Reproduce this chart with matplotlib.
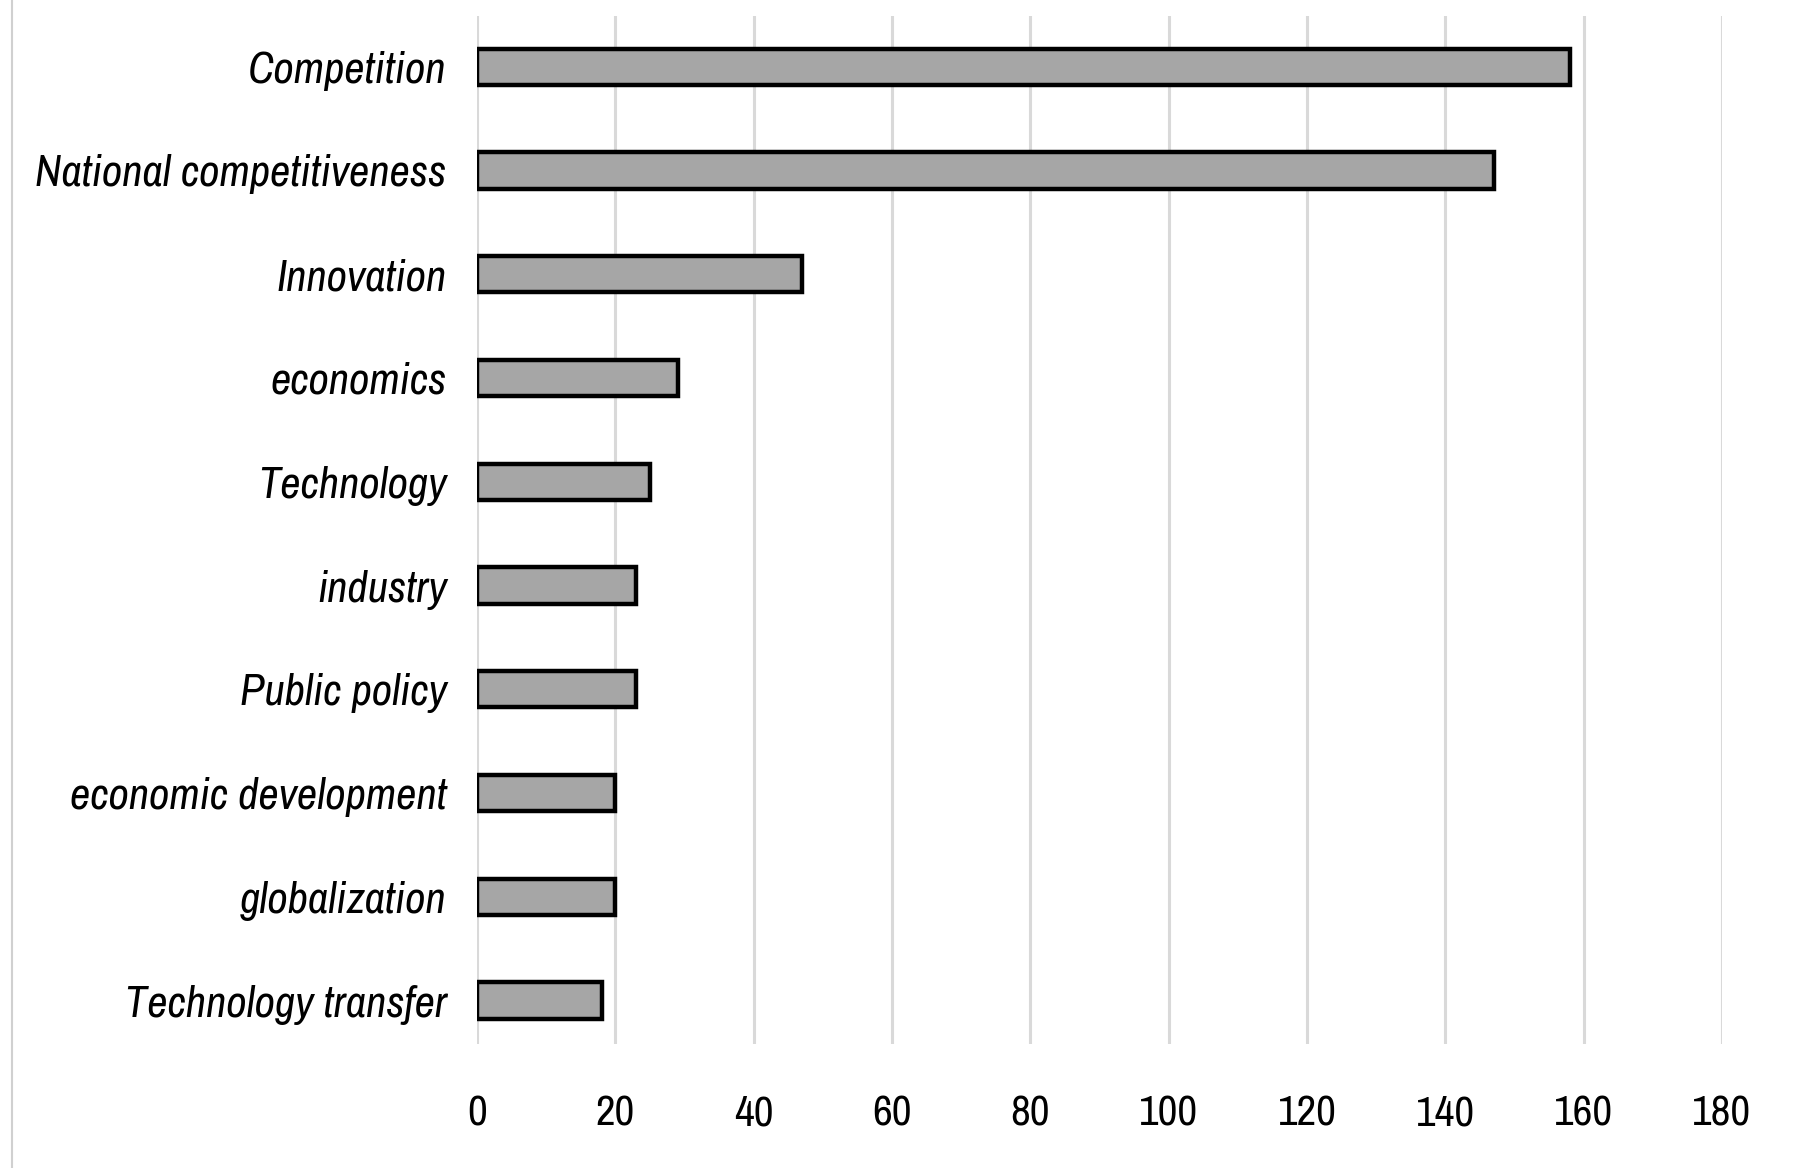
import matplotlib
matplotlib.use("Agg")
import matplotlib.pyplot as plt
from matplotlib.lines import Line2D
from matplotlib import font_manager

# Keyword frequencies
keywords = ["Competition", "National competitiveness", "Innovation", "economics",
            "Technology", "industry", "Public policy", "economic development",
            "globalization", "Technology transfer"]
counts = [158, 147, 47, 29, 25, 23, 23, 20, 20, 18]
xticks = [0, 20, 40, 60, 80, 100, 120, 140, 160, 180]

# pick a condensed face if one is installed (reference uses a narrow sans)
names = sorted(set(f.name for f in font_manager.fontManager.ttflist))
cond = [n for n in names if 'Condensed' in n or 'Narrow' in n]

plt.rcParams['font.family'] = cond + ['Liberation Sans', 'DejaVu Sans']

fig = plt.figure(figsize=(17.96, 11.68), dpi=100)
ax = fig.add_axes([0.2657, 0.106, 0.693, 0.88])

ypos = list(range(len(keywords)))
ax.barh(ypos, counts, height=0.35, color='#a6a6a6', edgecolor='black',
        linewidth=3.2, zorder=3)

ax.set_xlim(0, 180)
ax.set_ylim(9.42, -0.485)
ax.set_xticks(xticks)
ax.set_xticklabels([str(t) for t in xticks], fontsize=31)
ax.set_yticks(ypos)
ax.set_yticklabels(keywords, fontsize=32, style='italic')
ax.tick_params(axis='y', length=0, pad=22)
ax.tick_params(axis='x', length=0, pad=36)

ax.grid(axis='x', color='#d9d9d9', linewidth=2.2, zorder=0)
ax.grid(axis='y', visible=False)
for s in ax.spines.values():
    s.set_visible(False)

# thin frame line at the left edge of the picture
fig.add_artist(Line2D([0.0065, 0.0065], [0.0, 1.0], color='#d0d0d0',
                      linewidth=1.5, transform=fig.transFigure))

fig.savefig('out.png', dpi=100, facecolor='white')
